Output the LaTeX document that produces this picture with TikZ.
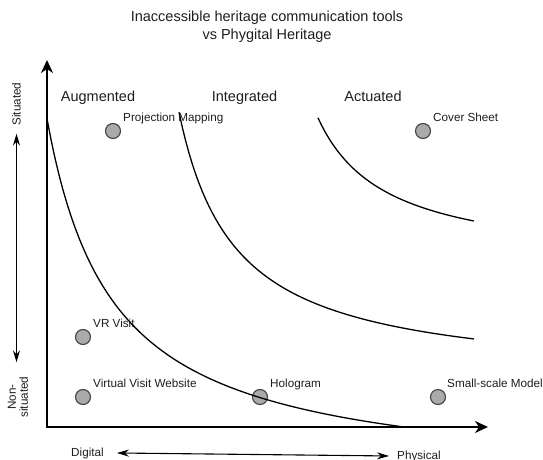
\documentclass[tikz,border=0pt]{standalone}
\usepackage{fontspec}
\setmainfont{Liberation Sans}
\usetikzlibrary{positioning,arrows.meta}
\definecolor{dotfill}{RGB}{170,170,170}
\definecolor{dotline}{RGB}{68,68,68}
\definecolor{inkgray}{RGB}{30,30,30}

\begin{document}
\begin{tikzpicture}[x=1pt,y=-1pt,
    big/.style={font=\fontsize{14.5}{18}\selectfont, text=inkgray, inner sep=0pt},
    small/.style={font=\fontsize{11.7}{12}\selectfont, text=inkgray, inner sep=0pt},
    dot/.style={circle, draw=dotline, fill=dotfill, line width=1.1pt, minimum size=15pt, inner sep=0pt},
    axis/.style={line width=1.6pt, {Stealth[length=13pt,width=12pt,inset=4pt]}-{Stealth[length=13pt,width=12pt,inset=4pt]}},
    dblarrow/.style={line width=1.1pt, {Stealth[length=12pt,width=7pt,inset=4pt]}-{Stealth[length=12pt,width=7pt,inset=4pt]}},
    curve/.style={line width=1.3pt, samples=90}]
    \useasboundingbox (0,0) rectangle (543,460);

    % title
    \node[big, align=center] (title) at (267,27) {Inaccessible heritage communication tools\\vs Phygital Heritage};

    % axes
    \coordinate (ytip) at (47,60);
    \coordinate (origin) at (47,427);
    \coordinate (xtip) at (488,427);
    \draw[axis] (ytip) -- (origin) -- (xtip);

    % zones
    \node[big, anchor=base] (augm) at (98,101) {Augmented};
    \node[big, anchor=base] (integ) at (244.5,101) {Integrated};
    \node[big, anchor=base] (actu) at (373,101) {Actuated};

    % axis names
    \node[small, rotate=90] (sit) at (16.5,104) {Situated};
    \node[small, rotate=90, align=center] (nonsit) at (18,397) {Non-\\situated};
    \draw[dblarrow, shorten <=8pt, shorten >=14pt] (sit.west) -- (sit.west |- nonsit.east);
    \node[small, anchor=base] (digital) at (87.5,456) {Digital};
    \node[small, anchor=base] (physical) at (419,459) {Physical};
    \draw[dblarrow] ([xshift=13pt]digital.east) -- ([xshift=-8pt]physical.west);

    % tools
    \node[dot] (proj) at (113,131) {};
    \node[dot] (cover) at (423,131) {};
    \node[dot] (vr) at (83,337) {};
    \node[dot] (website) at (83,397) {};
    \node[dot] (holo) at (260,397) {};
    \node[dot] (model) at (438,397) {};
    \node[small, anchor=base west] (projlbl) at ([shift={(10pt,10pt)}]proj.center) {Projection Mapping};
    \node[small, anchor=base west] (coverlbl) at ([shift={(10pt,10pt)}]cover.center) {Cover Sheet};
    \node[small, anchor=base west] (vrlbl) at ([shift={(10pt,10pt)}]vr.center) {VR Visit};
    \node[small, anchor=base west] (websitelbl) at ([shift={(10pt,10pt)}]website.center) {Virtual Visit Website};
    \node[small, anchor=base west] (hololbl) at ([shift={(10pt,10pt)}]holo.center) {Hologram};
    \node[small, anchor=base west] (modellbl) at ([shift={(9pt,10pt)}]model.center) {Small-scale Model};

    % zone borders
    \draw[curve] plot[domain=47:403] (\x, {484 - 241/((\x+19)*0.01)});
    \draw[curve] plot[domain=179:474] (\x, {382 - 151/((\x-123)*0.01)});
    \draw[curve] plot[domain=318:474] (\x, {266 - 100.7/((\x-250)*0.01)});
\end{tikzpicture}
\end{document}
